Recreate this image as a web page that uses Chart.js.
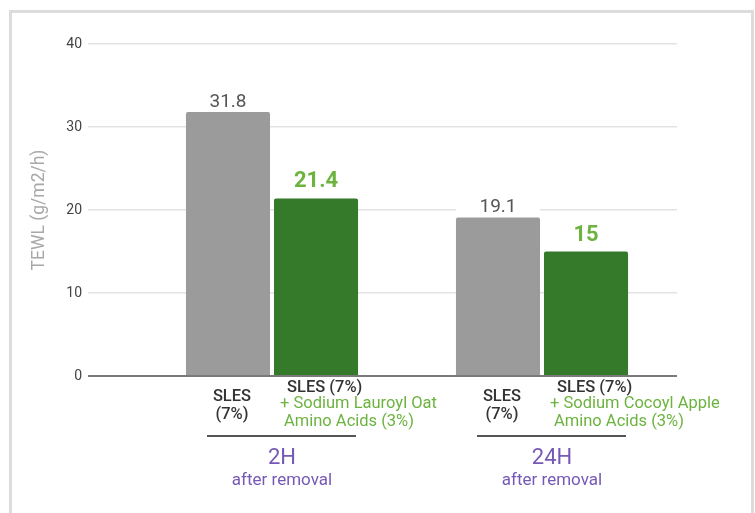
<!DOCTYPE html>
<html>
<head>
<meta charset="utf-8" />
<title>TEWL after removal</title>
<script src="https://cdn.jsdelivr.net/npm/chart.js@4.4.1/dist/chart.umd.min.js"></script>
<style>
    html, body { margin: 0; padding: 0; background: #fff; overflow: hidden; }
    .frame {
        position: absolute; left: 9px; top: 10px; width: 739px; height: 600px;
        border: 3px solid #dcdcdc;
    }
    .wrap { position: absolute; left: 0; top: 0; width: 755px; height: 513px; }
</style>
</head>
<body>
<div class="frame"></div>
<div class="wrap"><canvas id="tewl-chart" width="755" height="513"></canvas></div>
<script>
    // time points after removal
    var groups = ['2H', '24H'];
    var groupSub = 'after removal';

    // TEWL values, g/m2/h
    var slesValues = [31.8, 19.1];
    var blendValues = [21.4, 15];

    var slesLabel = ['SLES', '(7%)'];
    var blendHead = 'SLES (7%)';
    var blendLabels = [
        ['+ Sodium Lauroyl Oat', 'Amino Acids (3%)'],
        ['+ Sodium Cocoyl Apple', 'Amino Acids (3%)']
    ];

    var FONT = 'Roboto, "Open Sans", sans-serif';
    var DARK = '#333333';
    var GREEN_TXT = '#6cb33f';
    var PURPLE = '#7659b6';

    // value labels, bar captions and the time point headings
    var annotate = {
        id: 'annotate',
        afterDatasetsDraw: function (chart) {
            var c = chart.ctx;
            var zero = chart.scales.y.getPixelForValue(0);
            var gray = chart.getDatasetMeta(0).data;
            var green = chart.getDatasetMeta(1).data;
            c.save();

            // values above bars
            [gray, green].forEach(function (bars, d) {
                bars.forEach(function (bar, i) {
                    var v = d === 0 ? slesValues[i] : blendValues[i];
                    var size = d === 0 ? 19 : 22;
                    var gap = d === 0 ? 5 : 11;
                    c.font = (d === 0 ? '400 ' : '700 ') + size + 'px ' + FONT;
                    c.fillStyle = '#fff';
                    c.fillRect(bar.x - bar.width / 2, bar.y - gap - size, bar.width, size + 2);
                    c.fillStyle = d === 0 ? '#555555' : GREEN_TXT;
                    c.textAlign = 'center';
                    c.textBaseline = 'alphabetic';
                    c.fillText(String(v), bar.x, bar.y - gap);
                });
            });

            c.textBaseline = 'middle';
            groups.forEach(function (g, i) {
                var gb = gray[i], bb = green[i];

                // SLES caption
                c.font = '500 16.5px ' + FONT;
                c.fillStyle = DARK;
                c.textAlign = 'center';
                c.fillText(slesLabel[0], gb.x + 4, zero + 21);
                c.fillText(slesLabel[1], gb.x + 4, zero + 39);

                // blend caption
                var lx = bb.x - 36;
                c.textAlign = 'left';
                c.fillText(blendHead, lx + 7, zero + 12);
                c.font = '400 16.5px ' + FONT;
                c.fillStyle = GREEN_TXT;
                c.fillText(blendLabels[i][0], lx, zero + 28);
                c.fillText(blendLabels[i][1], lx + 4, zero + 46);

                // group rule and heading
                var mid = (gb.x + bb.x) / 2 + 10;
                c.strokeStyle = '#555555';
                c.lineWidth = 2;
                c.beginPath();
                c.moveTo(mid - 75, zero + 60);
                c.lineTo(mid + 74, zero + 60);
                c.stroke();

                c.textAlign = 'center';
                c.fillStyle = PURPLE;
                c.font = '400 22px ' + FONT;
                c.fillText(g, mid, zero + 82);
                c.font = '400 17px ' + FONT;
                c.fillText(groupSub, mid, zero + 105);
            });
            c.restore();
        }
    };

    var ctx = document.getElementById('tewl-chart');
    new Chart(ctx, {
        type: 'bar',
        data: {
            labels: groups,
            datasets: [
                {
                    label: 'SLES (7%)',
                    data: slesValues,
                    backgroundColor: '#9b9b9b',
                    borderRadius: 2,
                    borderSkipped: 'bottom'
                },
                {
                    label: 'SLES (7%) + amino acids (3%)',
                    data: blendValues,
                    backgroundColor: '#357a2b',
                    borderRadius: 2,
                    borderSkipped: 'bottom'
                }
            ]
        },
        options: {
            responsive: false,
            animation: false,
            categoryPercentage: 0.652,
            barPercentage: 0.955,
            layout: { padding: { left: 0, top: 44, right: 78, bottom: 137 } },
            plugins: {
                legend: { display: false },
                tooltip: { enabled: false }
            },
            scales: {
                x: { display: false },
                y: {
                    min: 0,
                    max: 40,
                    // wide axis box; the long tick marks carry the grid out to the labels
                    afterFit: function (scale) { scale.width = 137; },
                    ticks: {
                        stepSize: 10,
                        padding: 6,
                        color: '#444444',
                        font: { family: FONT, size: 14 }
                    },
                    border: { display: false },
                    grid: {
                        tickLength: 49,
                        color: function (c) { return c.tick && c.tick.value === 0 ? '#7a7a7a' : '#e3e3e3'; },
                        lineWidth: function (c) { return c.tick && c.tick.value === 0 ? 2 : 1.5; }
                    },
                    title: {
                        display: true,
                        text: 'TEWL (g/m2/h)',
                        color: '#a8a8a8',
                        padding: { top: 29, bottom: 0 },
                        font: { family: FONT, size: 17.5 }
                    }
                }
            }
        },
        plugins: [annotate]
    });
</script>
</body>
</html>
